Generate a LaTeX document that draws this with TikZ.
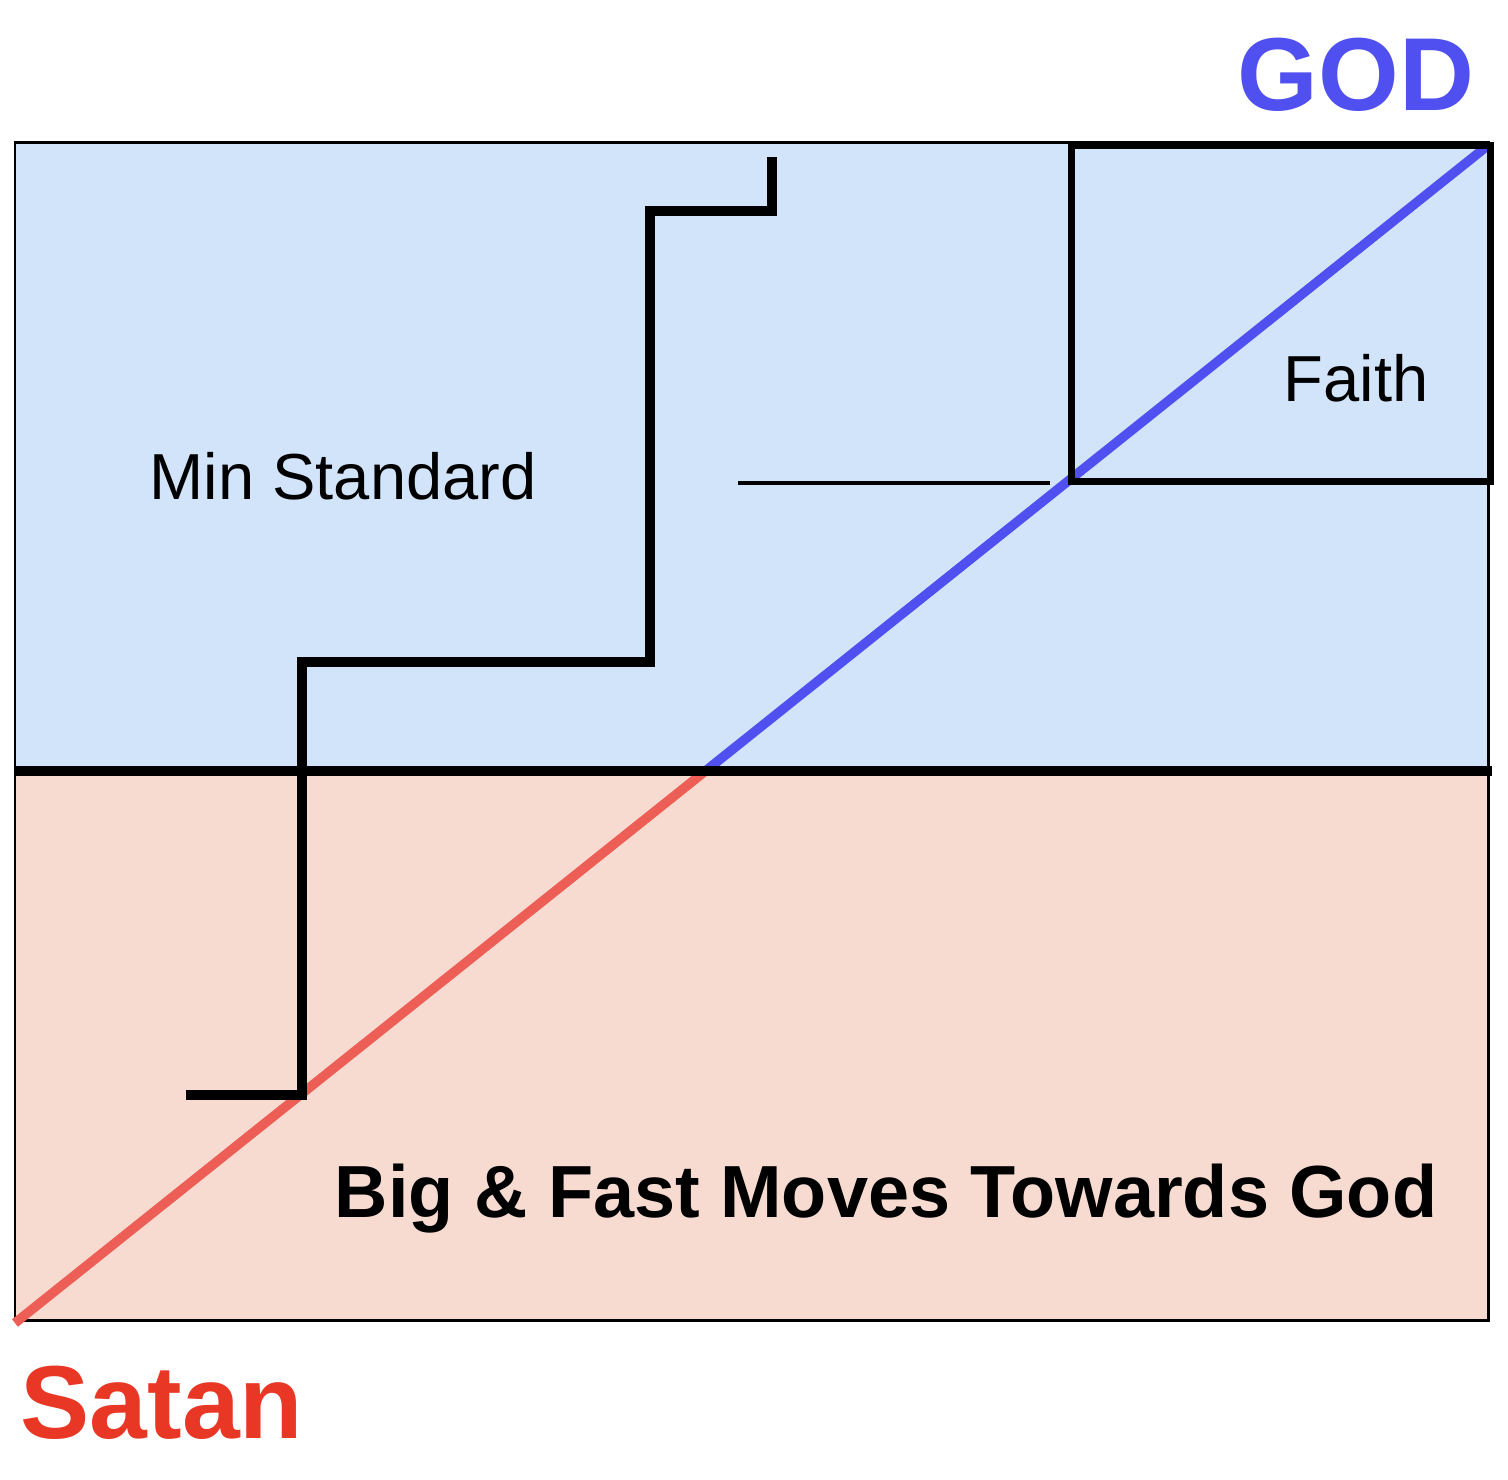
\documentclass[tikz,border=0pt]{standalone}
\usepackage{fontspec}
\setmainfont{Liberation Sans}
\definecolor{heavenFill}{RGB}{210,228,250}
\definecolor{earthFill}{RGB}{247,218,208}
\definecolor{godBlue}{RGB}{80,80,240}
\definecolor{satanRed}{RGB}{233,55,38}
\definecolor{pathRed}{RGB}{236,94,86}
\tikzset{
    zone/.style={draw=black,line width=0.85pt},
    heavy/.style={line width=3pt,line join=miter},
    txt/.style={anchor=base,inner sep=0pt,font=\fontsize{18.5}{20}\selectfont},
    bigtxt/.style={anchor=base,inner sep=0pt,font=\fontsize{29.5}{32}\selectfont\bfseries},
}
\begin{document}
\begin{tikzpicture}[x=0.01cm,y=-0.01cm]
    \useasboundingbox (0,0) rectangle (1508,1480);
    % the two zones
    \fill[heavenFill] (15,143) rectangle (1488,771);
    \fill[earthFill] (15,771) rectangle (1488,1321);
    \draw[zone] (15,143) rectangle (1488,1321);

    \coordinate (satan) at (15,1323);
    \coordinate (god) at (1486,147);
    \coordinate (divL) at (15,771);
    \coordinate (divR) at (1492,771);
    \coordinate (cross) at (intersection of satan--god and divL--divR);
    \draw[line width=2.7pt,pathRed] (satan) -- (cross);
    \draw[line width=2.7pt,godBlue] (cross) -- (god);
    \draw[heavy,line width=2.6pt] (divL) -- (divR);

    % steps
    \draw[heavy] (186,1095) -- (302,1095) -- (302,662) -- (650,662) -- (650,211) -- (772,211) -- (772,157);
    \coordinate (lineL) at (738,483);
    \coordinate (lineR) at (1050,483);
    \draw[line width=0.9pt] (lineL) -- (lineR);

    \node[draw,line width=2pt,minimum width=4.18cm,minimum height=3.35cm,inner sep=0pt] (faith) at (1281,313.5) {};

    \node[txt] (minstd) at (343,500) {Min Standard};
    \node[txt] (faithtxt) at (1356,402) {Faith};
    \node[txt,font=\fontsize{21}{23}\selectfont\bfseries] (moves) at (886,1218) {Big \& Fast Moves Towards God};
    \node[bigtxt,godBlue] (godtxt) at (1356,111) {GOD};
    \node[bigtxt,satanRed] (satantxt) at (162,1439) {Satan};
\end{tikzpicture}
\end{document}
